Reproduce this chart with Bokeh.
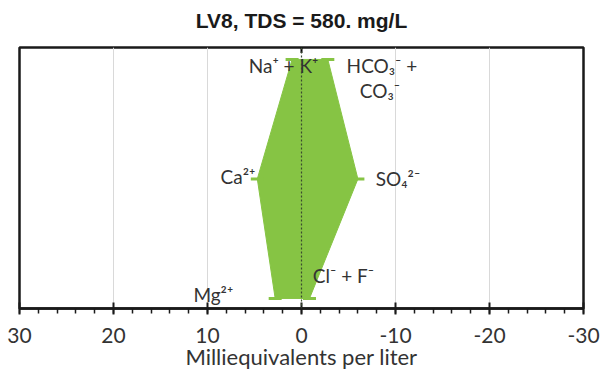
from bokeh.plotting import figure
from bokeh.models import Range1d, FixedTicker, Span, ColumnDataSource, Title
from bokeh.core.properties import value
from bokeh.embed import file_html
from bokeh.resources import INLINE

# ---- data (meq/L) ----
title_text = "LV8, TDS = 580. mg/L"
ion_levels = [3, 2, 1]                 # row positions: top, middle, bottom
cation_names = ["Na⁺ + K⁺", "Ca²⁺", "Mg²⁺"]
cation_values = [1.0, 4.7, 2.8]
anion_names = ["HCO₃⁻ +", "SO₄²⁻", "Cl⁻ + F⁻"]
anion_extra = "CO₃⁻"
anion_values = [2.8, 6.0, 0.85]
x_ticks = [30, 20, 10, 0, -10, -20, -30]
x_tick_labels = ["30", "20", "10", "0", "-10", "-20", "-30"]
minor_ticks = list(range(-30, 31, 2))
grid_ticks = [20, 10, -10, -20]

GREEN = "#86c444"
TEXT = "#333333"

p = figure(width=600, height=377, x_range=Range1d(30, -30), y_range=Range1d(0.916, 3.1),
           output_backend="svg", toolbar_location=None, title=None,
           min_border_left=19, min_border_right=17, min_border_top=47, min_border_bottom=69)

# polygon (cations positive, anions negative -> plotted on right since axis reversed)
poly_x = cation_values + [-v for v in reversed(anion_values)]
poly_y = ion_levels + list(reversed(ion_levels))
p.patch(poly_x, poly_y, fill_color=GREEN, line_color=GREEN, line_width=1)
p.scatter(poly_x, poly_y, marker="dash", size=13, line_color=GREEN, line_width=3)

# center dotted line
p.add_layout(Span(location=0, dimension="height", line_color="#3a4a30", line_width=1.2,
                  line_dash="2 2"))
p.segment(x0=[0], y0=[p.y_range.end], x1=[0], y1=[p.y_range.end - 0.045],
          line_color="black", line_width=2)

# ion labels
lbl = ColumnDataSource(dict(
    x=[-1.8, -4.8, -6.2, 4.9, -7.9, -1.2, 11.5],
    y=[2.95, 2.95, 2.74, 2.02, 2.0, 1.19, 1.03],
    text=[cation_names[0], anion_names[0], anion_extra, cation_names[1], anion_names[1],
          anion_names[2], cation_names[2]],
    align=["right", "left", "left", "right", "left", "left", "left"],
))
p.text(x="x", y="y", text="text", source=lbl, text_align="align", text_baseline="middle",
       text_font=value("Lato"), text_font_size="19px", text_color=TEXT)

# axes
p.yaxis.visible = False
p.ygrid.visible = False
ax = p.xaxis[0]
ax.ticker = FixedTicker(ticks=x_ticks, minor_ticks=minor_ticks)
ax.major_label_overrides = {t: l for t, l in zip(x_ticks, x_tick_labels)}
ax.axis_line_width = 2.5
ax.axis_line_color = "#1a1a1a"
ax.major_tick_in = 6
ax.major_tick_out = 6
ax.major_tick_line_width = 2
ax.major_tick_line_color = "#1a1a1a"
ax.minor_tick_in = 0
ax.minor_tick_out = 5
ax.minor_tick_line_width = 1.5
ax.minor_tick_line_color = "#1a1a1a"
ax.major_label_standoff = 13
ax.major_label_text_font = "Lato"
ax.major_label_text_font_size = "21px"
ax.major_label_text_color = TEXT
ax.axis_label = "Milliequivalents per liter"
ax.axis_label_text_font = "Lato"
ax.axis_label_text_font_size = "22px"
ax.axis_label_text_font_style = "normal"
ax.axis_label_text_color = TEXT
ax.axis_label_standoff = -3

p.xgrid.ticker = FixedTicker(ticks=grid_ticks)
p.xgrid.grid_line_color = "#d9d9d9"
p.xgrid.grid_line_width = 1

p.outline_line_color = "#1a1a1a"
p.outline_line_width = 2.5

# spacer panel next to the frame, then the real title further out
p.add_layout(Title(text=" ", text_font_size="8px", standoff=0), "above")
p.add_layout(Title(text=title_text, align="center", text_font="Liberation Sans",
                   text_font_size="21px", text_font_style="bold", text_color="#1a1a1a"),
             "above")

open("out.html", "w").write(file_html(p, INLINE))
